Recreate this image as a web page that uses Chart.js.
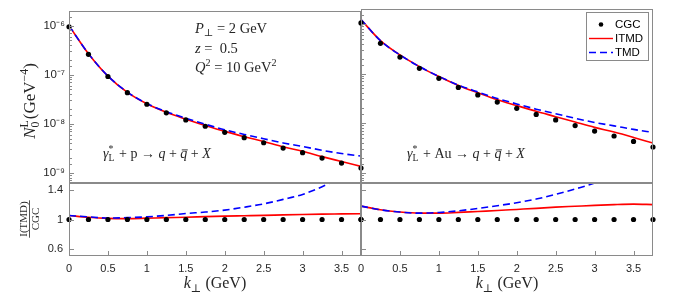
<!DOCTYPE html>
<html>
<head>
<meta charset="utf-8">
<script src="https://cdn.jsdelivr.net/npm/chart.js@4.4.1/dist/chart.umd.min.js"></script>
<style>
  html, body { margin: 0; padding: 0; background: #fff; }
  #wrap { position: relative; width: 692px; height: 308px; }
  canvas { position: absolute; left: 0; top: 0; }
</style>
</head>
<body>
<div id="wrap">
  <canvas id="tl" width="692" height="308"></canvas>
  <canvas id="tr" width="692" height="308"></canvas>
  <canvas id="bl" width="692" height="308"></canvas>
  <canvas id="br" width="692" height="308"></canvas>
</div>
<script>
// k_perp grid (GeV)
const kPerp = [0, 0.25, 0.5, 0.75, 1, 1.25, 1.5, 1.75, 2, 2.25, 2.5, 2.75, 3, 3.25, 3.5, 3.75];

// top panels: N_0^L (GeV^-4)
const cgcP  = [9.5e-7, 2.6e-7, 9.2e-8, 4.3e-8, 2.5e-8, 1.67e-8, 1.2e-8, 8.9e-9, 6.7e-9, 5.2e-9, 4.1e-9, 3.2e-9, 2.57e-9, 2.0e-9, 1.58e-9, 1.25e-9];
const itmdP = [1.0e-6, 2.68e-7, 9.34e-8, 4.35e-8, 2.55e-8, 1.71e-8, 1.24e-8, 9.24e-9, 7.0e-9, 5.46e-9, 4.33e-9, 3.4e-9, 2.74e-9, 2.14e-9, 1.7e-9, 1.35e-9];
const tmdP  = [1.0e-6, 2.69e-7, 9.38e-8, 4.41e-8, 2.59e-8, 1.76e-8, 1.30e-8, 9.8e-9, 7.54e-9, 6.06e-9, 4.96e-9, 4.06e-9, 3.44e-9, 2.88e-9, 2.47e-9, 2.2e-9];

const cgcAu  = [1.05e-6, 4.07e-7, 2.15e-7, 1.27e-7, 8.0e-8, 5.25e-8, 3.7e-8, 2.65e-8, 1.99e-8, 1.5e-8, 1.16e-8, 8.9e-9, 6.9e-9, 5.5e-9, 4.27e-9, 3.3e-9];
const itmdAu = [1.22e-6, 4.6e-7, 2.37e-7, 1.38e-7, 8.68e-8, 5.75e-8, 4.1e-8, 2.97e-8, 2.26e-8, 1.73e-8, 1.35e-8, 1.05e-8, 8.2e-9, 6.6e-9, 5.15e-9, 3.96e-9];
const tmdAu  = [1.22e-6, 4.6e-7, 2.37e-7, 1.38e-7, 8.75e-8, 5.86e-8, 4.25e-8, 3.14e-8, 2.44e-8, 1.91e-8, 1.55e-8, 1.25e-8, 1.03e-8, 8.8e-9, 7.47e-9, 6.5e-9];

// bottom panels: ratio to CGC
const rCgc    = [1, 1, 1, 1, 1, 1, 1, 1, 1, 1, 1, 1, 1, 1, 1, 1];
const rItmdP  = [1.054, 1.03, 1.015, 1.012, 1.018, 1.025, 1.03, 1.038, 1.045, 1.05, 1.055, 1.062, 1.068, 1.072, 1.075, 1.078];
const rTmdP   = [1.054, 1.035, 1.02, 1.025, 1.036, 1.055, 1.08, 1.1, 1.126, 1.165, 1.21, 1.27, 1.337, 1.44, 1.58, 1.78];
const rItmdAu = [1.18, 1.13, 1.10, 1.085, 1.085, 1.095, 1.108, 1.12, 1.135, 1.15, 1.166, 1.178, 1.19, 1.2, 1.206, 1.2];
const rTmdAu  = [1.18, 1.13, 1.10, 1.085, 1.094, 1.117, 1.148, 1.185, 1.225, 1.275, 1.337, 1.41, 1.49, 1.6, 1.75, 1.98];

// ticks
const kTicks = [0, 0.5, 1, 1.5, 2, 2.5, 3, 3.5];
const ratioTicks = [0.6, 1, 1.4];
const logTickValues = [1e-9, 1e-8, 1e-7, 1e-6];
const logTickLabels = ['10\u207B\u2079', '10\u207B\u2078', '10\u207B\u2077', '10\u207B\u2076'];

const AXIS = '#8a8a8a';
const TXT = '#262626';
const SERIF = '"Liberation Serif", "DejaVu Serif", serif';

Chart.defaults.font.family = '"Liberation Sans", Arial, sans-serif';
Chart.defaults.font.size = 11;
Chart.defaults.color = TXT;

const pts = (xs, ys) => xs.map((x, i) => ({ x: x, y: ys[i] }));
const isDecade = v => Math.abs(Math.log10(v) - Math.round(Math.log10(v))) < 1e-6;

function datasets(cgc, itmd, tmd) {
  return [
    { label: 'CGC', data: pts(kPerp, cgc), showLine: false, pointRadius: 2.6,
      pointBackgroundColor: '#000', pointBorderWidth: 0, clip: false },
    { label: 'TMD', data: pts(kPerp, tmd), borderColor: '#0000ff', borderWidth: 1.6,
      borderDash: [7, 4], pointRadius: 0, cubicInterpolationMode: 'monotone' },
    { label: 'ITMD', data: pts(kPerp, itmd), borderColor: '#ff0000', borderWidth: 1.6,
      pointRadius: 0, cubicInterpolationMode: 'monotone' }
  ];
}

// --- rich math-ish text ---
function fontFor(size, it) { return (it ? 'italic ' : '') + size + 'px ' + SERIF; }
function runWidth(ctx, r, size) {
  if (r.stack) {
    ctx.font = fontFor(size * 0.7, false);
    return Math.max(ctx.measureText(r.stack[0]).width, ctx.measureText(r.stack[1]).width) + 1;
  }
  ctx.font = fontFor((r.sup || r.sub) ? size * 0.7 : size, r.it);
  return ctx.measureText(r.t).width;
}
function drawRich(ctx, x, y, runs, size, align) {
  const total = runs.reduce((w, r) => w + runWidth(ctx, r, size), 0);
  let cx = align === 'center' ? x - total / 2 : x;
  ctx.textAlign = 'left';
  ctx.textBaseline = 'alphabetic';
  ctx.fillStyle = TXT;
  runs.forEach(r => {
    const w = runWidth(ctx, r, size);
    if (r.stack) {
      ctx.font = fontFor(size * 0.7, false);
      ctx.fillText(r.stack[0], cx, y - size * 0.4);
      ctx.fillText(r.stack[1], cx, y + size * 0.22);
    } else {
      ctx.font = fontFor((r.sup || r.sub) ? size * 0.7 : size, r.it);
      const dy = r.sup ? -size * 0.4 : (r.sub ? size * 0.22 : 0);
      ctx.fillText(r.t, cx, y + dy);
      if (r.bar) {
        ctx.strokeStyle = TXT; ctx.lineWidth = 0.9;
        ctx.beginPath();
        ctx.moveTo(cx + 1.5, y - size * 0.58);
        ctx.lineTo(cx + w + 0.5, y - size * 0.58);
        ctx.stroke();
      }
    }
    cx += w;
  });
}

const kTitle = [{ t: 'k', it: 1 }, { t: '\u22A5', sub: 1 }, { t: ' (GeV)' }];
const nTitle = [{ t: 'N', it: 1 }, { stack: ['L', '0'] }, { t: '(GeV' }, { t: '\u2212' + '4', sup: 1 }, { t: ')' }];
function reaction(target) {
  return [{ t: '\u03B3', it: 1 }, { stack: ['*', 'L'] }, { t: ' + ' + target + ' \u2192 ' },
          { t: 'q', it: 1 }, { t: ' + ' }, { t: 'q', it: 1, bar: 1 }, { t: ' + ' }, { t: 'X', it: 1 }];
}

// frame with inward MATLAB-style ticks
function drawFrame(chart, tickX) {
  const { ctx, chartArea: a, scales } = chart;
  ctx.save();
  ctx.strokeStyle = AXIS;
  ctx.lineWidth = 1;
  const L = Math.round(a.left) + 0.5, T = Math.round(a.top) + 0.5;
  const R = Math.round(a.right) - 0.5, B = Math.round(a.bottom) - 0.5;
  ctx.beginPath();
  scales.y.ticks.forEach(t => {
    const p = Math.round(scales.y.getPixelForValue(t.value)) + 0.5;
    if (p < T + 1 || p > B - 1) return;
    const len = (scales.y.type === 'logarithmic' && !isDecade(t.value)) ? 2.5 : 4.5;
    ctx.moveTo(L, p); ctx.lineTo(L + len, p);
  });
  if (tickX) {
    scales.x.ticks.forEach(t => {
      const p = Math.round(scales.x.getPixelForValue(t.value)) + 0.5;
      if (p < L + 1 || p > R - 1) return;
      ctx.moveTo(p, B); ctx.lineTo(p, B - 4.5);
    });
  }
  ctx.stroke();
  ctx.strokeRect(L, T, R - L, B - T);
  ctx.restore();
}

function topOptions(left, showLabels) {
  return {
    responsive: false, animation: false, events: [],
    layout: { padding: { left: left, top: 9, right: 692 - (left === 0 ? 361 : 653), bottom: 308 - 183 } },
    plugins: { legend: { display: false }, tooltip: { enabled: false } },
    scales: {
      x: { type: 'linear', display: false, min: 0, max: 3.75 },
      y: {
        type: 'logarithmic', min: 6.2e-10, max: 2.0e-6,
        grid: { display: false, drawTicks: false }, border: { display: false },
        ticks: {
          display: showLabels, autoSkip: false, padding: 4, font: { size: 11.5 },
          callback: v => {
            const i = logTickValues.findIndex(t => Math.abs(Math.log10(v) - Math.log10(t)) < 1e-6);
            return i >= 0 ? logTickLabels[i] : '';
          }
        },
        afterFit: s => { s.width = showLabels ? 69 : 0; }
      }
    }
  };
}

function bottomOptions(left, showLabels) {
  return {
    responsive: false, animation: false, events: [],
    layout: { padding: { left: left, top: 183, right: 692 - (left === 0 ? 361 : 653), bottom: 308 - 256 - 20 } },
    plugins: { legend: { display: false }, tooltip: { enabled: false } },
    scales: {
      x: {
        type: 'linear', min: 0, max: 3.75,
        grid: { display: false, drawTicks: false }, border: { display: false },
        ticks: { padding: 6, font: { size: 11 }, autoSkip: false, maxRotation: 0, callback: v => String(v) },
        afterBuildTicks: s => { s.ticks = kTicks.map(v => ({ value: v })); },
        afterFit: s => { s.height = 20; }
      },
      y: {
        type: 'linear', min: 0.51, max: 1.49,
        grid: { display: false, drawTicks: false }, border: { display: false },
        ticks: { display: showLabels, padding: 6, font: { size: 11 }, callback: v => String(v) },
        afterBuildTicks: s => { s.ticks = ratioTicks.map(v => ({ value: v })); },
        afterFit: s => { s.width = showLabels ? 69 : 0; }
      }
    }
  };
}

// top-left: gamma*_L + p
new Chart(document.getElementById('tl'), {
  type: 'line',
  data: { datasets: datasets(cgcP, itmdP, tmdP) },
  options: topOptions(0, true),
  plugins: [{
    id: 'decorTL',
    afterDraw(chart) {
      const ctx = chart.ctx;
      drawFrame(chart, false);
      ctx.save();
      drawRich(ctx, 195, 33, [{ t: 'P', it: 1 }, { t: '\u22A5', sub: 1 }, { t: ' = 2 GeV' }], 14.5, 'left');
      drawRich(ctx, 195, 53, [{ t: 'z', it: 1 }, { t: ' =  0.5' }], 14.5, 'left');
      drawRich(ctx, 195, 72, [{ t: 'Q', it: 1 }, { t: '2', sup: 1 }, { t: ' = 10 GeV' }, { t: '2', sup: 1 }], 14.5, 'left');
      drawRich(ctx, 103, 158, reaction('p'), 14, 'left');
      ctx.translate(35, 101);
      ctx.rotate(-Math.PI / 2);
      drawRich(ctx, 0, 0, nTitle, 17, 'center');
      ctx.restore();
    }
  }]
});

// top-right: gamma*_L + Au, with legend
new Chart(document.getElementById('tr'), {
  type: 'line',
  data: { datasets: datasets(cgcAu, itmdAu, tmdAu) },
  options: topOptions(361, false),
  plugins: [{
    id: 'decorTR',
    afterDraw(chart) {
      const ctx = chart.ctx;
      drawFrame(chart, false);
      ctx.save();
      drawRich(ctx, 407, 158, reaction('Au'), 14, 'left');
      // legend box
      const ds = chart.data.datasets;
      const order = [ds[0], ds[2], ds[1]];
      ctx.fillStyle = '#fff';
      ctx.fillRect(586.5, 12.5, 62, 48);
      ctx.strokeStyle = AXIS; ctx.lineWidth = 1;
      ctx.strokeRect(586.5, 12.5, 62, 48);
      order.forEach((d, i) => {
        const y = 24.5 + i * 14;
        if (d.showLine === false) {
          ctx.fillStyle = d.pointBackgroundColor;
          ctx.beginPath(); ctx.arc(601, y, 2.3, 0, Math.PI * 2); ctx.fill();
        } else {
          ctx.strokeStyle = d.borderColor; ctx.lineWidth = 1.4;
          ctx.setLineDash(d.borderDash || []);
          ctx.beginPath(); ctx.moveTo(589, y); ctx.lineTo(613, y); ctx.stroke();
          ctx.setLineDash([]);
        }
        ctx.fillStyle = '#000';
        ctx.font = '11.5px "Liberation Sans", Arial, sans-serif';
        ctx.textAlign = 'left'; ctx.textBaseline = 'middle';
        ctx.fillText(d.label, 615, y + 0.5);
      });
      ctx.restore();
    }
  }]
});

// bottom-left ratio
new Chart(document.getElementById('bl'), {
  type: 'line',
  data: { datasets: datasets(rCgc, rItmdP, rTmdP) },
  options: bottomOptions(0, true),
  plugins: [{
    id: 'decorBL',
    afterDraw(chart) {
      const ctx = chart.ctx;
      drawFrame(chart, true);
      ctx.save();
      drawRich(ctx, 215, 288, kTitle, 16, 'center');
      // I(TMD)/CGC fraction, rotated
      ctx.translate(29.5, 219);
      ctx.rotate(-Math.PI / 2);
      ctx.font = '11px ' + SERIF;
      ctx.fillStyle = TXT;
      ctx.textAlign = 'center'; ctx.textBaseline = 'alphabetic';
      const wn = ctx.measureText('I(TMD)').width;
      ctx.fillText('I(TMD)', 0, -3);
      ctx.fillText('CGC', 0, 9);
      ctx.strokeStyle = TXT; ctx.lineWidth = 0.8;
      ctx.beginPath(); ctx.moveTo(-wn / 2 - 1, 0); ctx.lineTo(wn / 2 + 1, 0); ctx.stroke();
      ctx.restore();
    }
  }]
});

// bottom-right ratio
new Chart(document.getElementById('br'), {
  type: 'line',
  data: { datasets: datasets(rCgc, rItmdAu, rTmdAu) },
  options: bottomOptions(361, false),
  plugins: [{
    id: 'decorBR',
    afterDraw(chart) {
      drawFrame(chart, true);
      chart.ctx.save();
      drawRich(chart.ctx, 507, 288, kTitle, 16, 'center');
      chart.ctx.restore();
    }
  }]
});
</script>
</body>
</html>
